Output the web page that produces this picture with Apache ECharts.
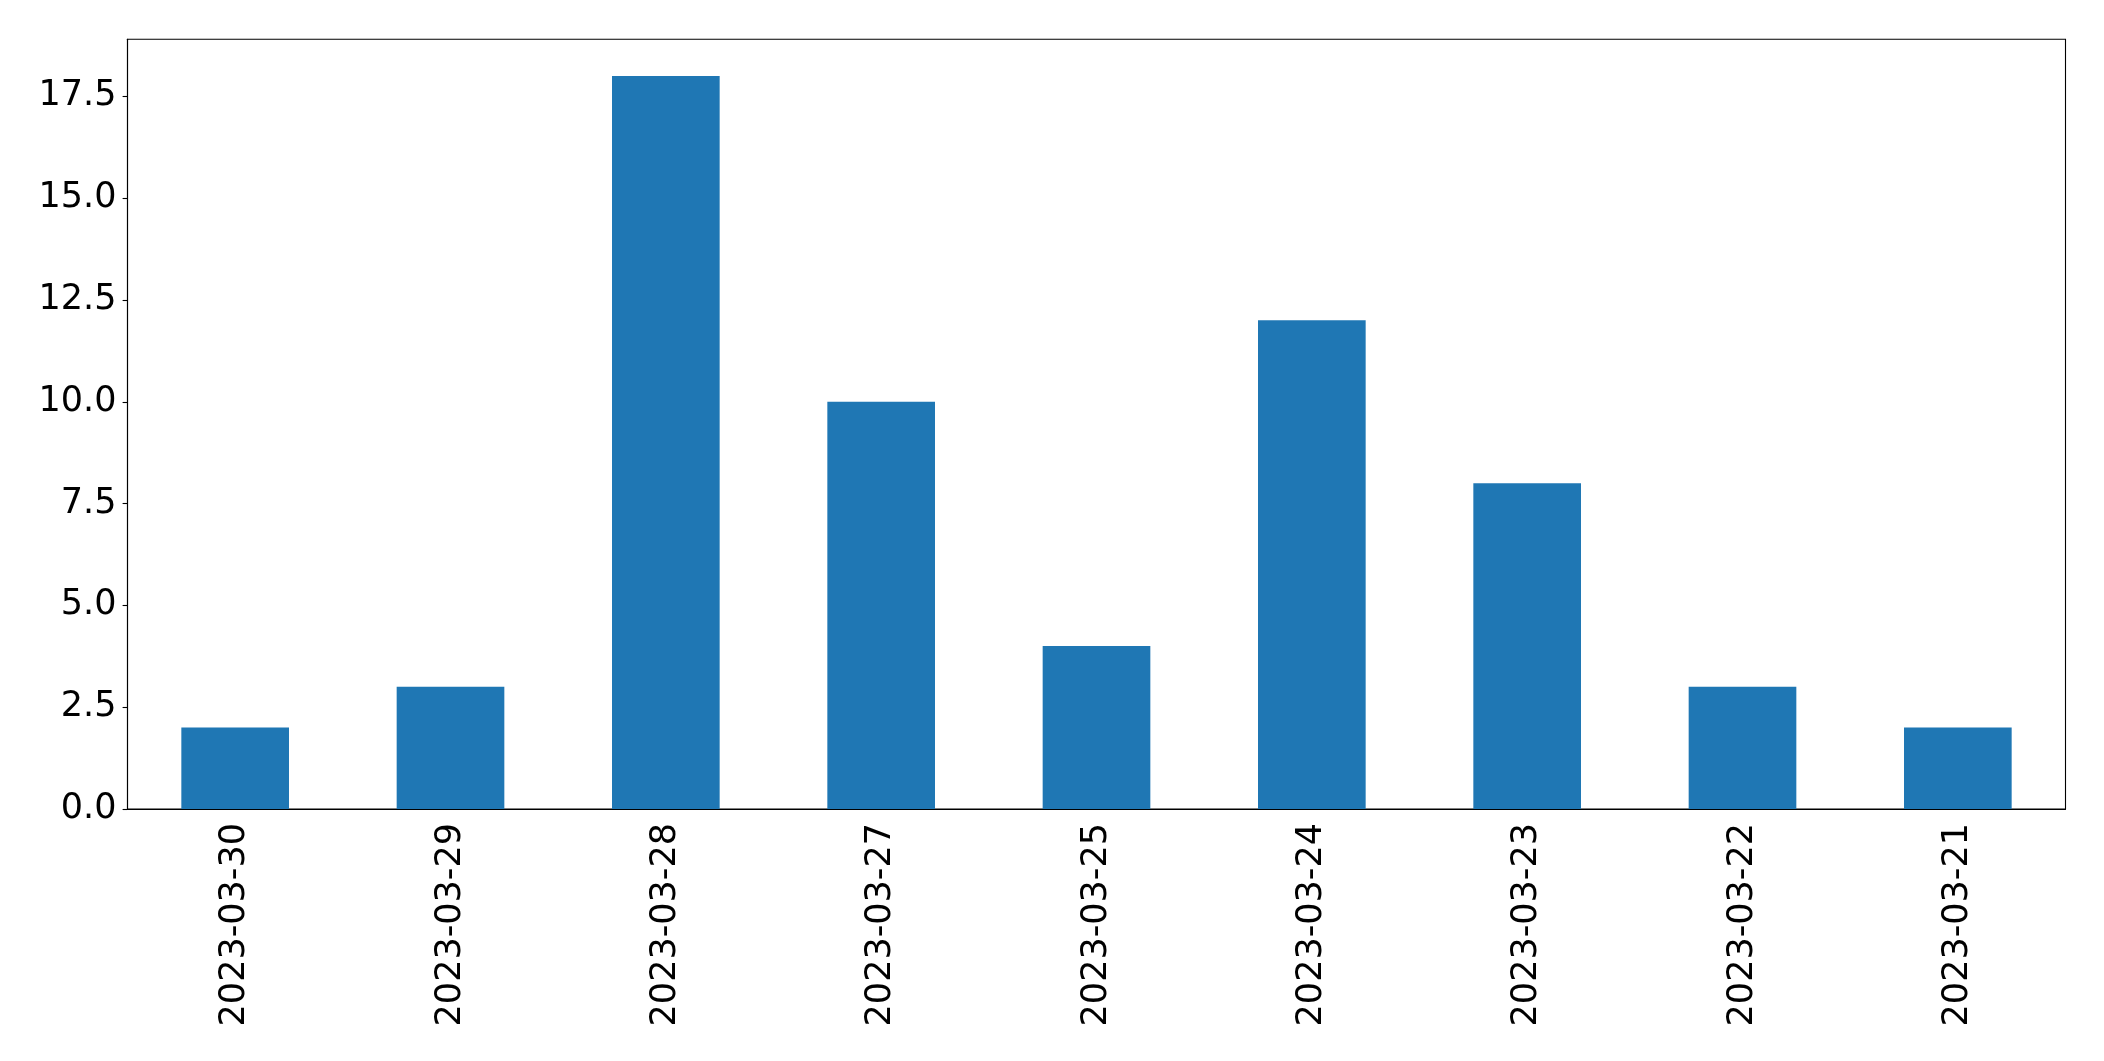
<!DOCTYPE html>
<html>
<head>
<meta charset="utf-8">
<script src="https://cdn.jsdelivr.net/npm/echarts@6/dist/echarts.min.js"></script>
<style>
html,body{margin:0;padding:0;background:#fff;}
#chart{width:2104px;height:1061px;}
</style>
</head>
<body>
<div id="chart"></div>
<script>
const categories = ["2023-03-30","2023-03-29","2023-03-28","2023-03-27","2023-03-25","2023-03-24","2023-03-23","2023-03-22","2023-03-21"];
const values = [2, 3, 18, 10, 4, 12, 8, 3, 2];
const yTicks = [0, 2.5, 5, 7.5, 10, 12.5, 15, 17.5];
const yMax = 18.9;

const chart = echarts.init(document.getElementById('chart'), null, {renderer: 'canvas'});
const font = 'DejaVu Sans';
chart.setOption({
  animation: false,
  backgroundColor: '#ffffff',
  grid: {
    left: 127.5, top: 39.3, width: 1938, height: 769.7,
    containLabel: false,
    show: true, borderColor: '#000', borderWidth: 1.1, backgroundColor: 'transparent'
  },
  xAxis: {
    type: 'category',
    data: categories,
    boundaryGap: true,
    axisLine: {lineStyle: {color: '#000', width: 1.1}},
    axisTick: {alignWithLabel: true, length: 4.9, lineStyle: {color: '#000', width: 1.1}},
    axisLabel: {rotate: 90, margin: 14, color: '#000', fontFamily: font, fontSize: 35, interval: 0},
    splitLine: {show: false}
  },
  yAxis: {
    type: 'value',
    min: 0, max: yMax,
    axisLine: {show: true, lineStyle: {color: '#000', width: 1.1}},
    axisTick: {show: true, length: 4.9, customValues: yTicks, lineStyle: {color: '#000', width: 1.1}},
    axisLabel: {customValues: yTicks, margin: 11, color: '#000', fontFamily: font, fontSize: 35,
      formatter: v => v.toFixed(1)},
    splitLine: {show: false}
  },
  series: [{
    type: 'bar',
    data: values,
    barWidth: '50%',
    itemStyle: {color: '#1f77b4'}
  }]
});
</script>
</body>
</html>
